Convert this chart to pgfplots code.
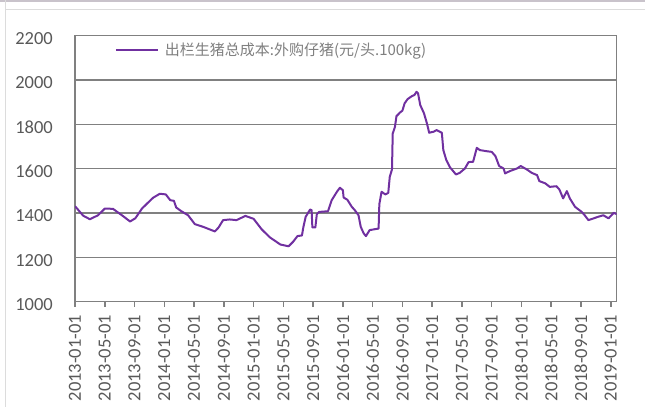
\documentclass[border=0pt]{standalone}
\usepackage{fontspec}
\setmainfont{Carlito}
\newfontfamily\cjk{Noto Sans CJK SC}
\usepackage{pgfplots}
\pgfplotsset{compat=1.18}
\definecolor{axisgray}{HTML}{808080}
\definecolor{labelgray}{HTML}{595959}
\definecolor{legendgray}{HTML}{7F7F7F}
\definecolor{hogpurple}{HTML}{7030A0}
\definecolor{framegray}{HTML}{DCDCDC}

\begin{document}
\begin{tikzpicture}[x=1pt,y=1pt]
\useasboundingbox (0,0) rectangle (645,407);
% outer frame of the screenshot
\fill[fill={rgb,255:red,201;green,195;blue,203}] (0,405) rectangle (645,407);
\draw[framegray, line width=1.2pt] (5.5,407) -- (5.5,0);
\draw[framegray, line width=1.2pt] (5.5,397.5) -- (645,397.5);
\begin{axis}[
  at={(75pt,105.3pt)}, anchor=south west,
  scale only axis, width=541.7pt, height=266pt,
  xmin=0, xmax=72.8, ymin=1000, ymax=2200,
  ytick={1000,1200,...,2200},
  xtick={0,4,...,72},
  xticklabels={2013-01-01,2013-05-01,2013-09-01,2014-01-01,2014-05-01,2014-09-01,
    2015-01-01,2015-05-01,2015-09-01,2016-01-01,2016-05-01,2016-09-01,
    2017-01-01,2017-05-01,2017-09-01,2018-01-01,2018-05-01,2018-09-01,2019-01-01},
  xtick pos=bottom, xtick align=outside,
  major tick length=5pt,
  xtick style={axisgray, line width=1.5pt},
  ytick style={draw=none},
  axis line style={axisgray, line width=1.5pt},
  ymajorgrids, grid style={axisgray, line width=1.5pt},
  tick label style={font=\fontsize{18.5}{20}\selectfont, text=labelgray},
  /pgf/number format/assume math mode=true,
  /pgf/number format/1000 sep={},
  xticklabel style={rotate=90, anchor=east, inner sep=0pt},
  xticklabel shift=8pt,
  yticklabel style={anchor=east, inner sep=0pt, yshift=-3pt},
  yticklabel shift=22pt,
  legend style={at={(axis description cs:0.0738,0.946)}, anchor=west,
    draw=none, fill=none, inner sep=0pt, outer sep=0pt,
    font=\cjk\fontsize{15}{17}\selectfont, text=legendgray,
    nodes={inner sep=0pt},
    /tikz/every odd column/.append style={column sep=6pt}},
  legend image code/.code={\draw[#1] (0pt,0pt) -- (42pt,0pt);},
]
\addplot[hogpurple, line width=2pt, line join=round] coordinates {
(0.0,1431) (1.1,1388) (2.0,1372) (3.1,1390) (4.0,1420) (5.1,1419)
(6.3,1390) (7.4,1362) (8.1,1376) (9.0,1420) (9.6,1440) (10.5,1469)
(11.4,1487) (12.2,1484) (12.8,1458) (13.3,1455) (13.6,1425) (14.3,1408)
(15.2,1390) (16.1,1350) (17.2,1338) (18.8,1317) (19.3,1335) (19.9,1368)
(20.8,1371) (21.7,1368) (22.9,1387) (24.0,1374) (25.1,1326) (26.2,1290)
(27.6,1258) (28.7,1250) (29.3,1270) (29.9,1296) (30.5,1299) (30.7,1338)
(31.0,1383) (31.6,1416) (31.8,1413) (31.9,1335) (32.3,1335) (32.5,1395)
(32.8,1405) (34.0,1408) (34.5,1458) (35.2,1496) (35.6,1514) (36.0,1503)
(36.1,1470) (36.6,1460) (37.2,1428) (37.6,1413) (38.1,1390) (38.4,1338)
(38.8,1308) (39.1,1296) (39.6,1323) (40.8,1330) (40.9,1440) (41.2,1496)
(41.7,1484) (42.1,1491) (42.3,1563) (42.6,1597) (42.7,1759) (43.0,1789)
(43.2,1837) (43.7,1854) (44.0,1862) (44.3,1895) (44.7,1914) (45.3,1928)
(45.6,1932) (45.9,1947) (46.1,1940) (46.4,1887) (46.9,1850) (47.3,1804)
(47.6,1762) (48.2,1767) (48.6,1774) (49.3,1762) (49.5,1684) (49.9,1639)
(50.4,1606) (51.2,1574) (51.7,1581) (52.4,1601) (52.9,1630) (53.5,1631)
(54.0,1694) (54.4,1684) (55.3,1679) (56.0,1676) (56.5,1657) (57.0,1612)
(57.6,1601) (57.8,1579) (58.5,1590) (59.4,1601) (59.9,1612) (60.7,1597)
(61.4,1581) (62.1,1571) (62.4,1544) (63.2,1534) (63.8,1518) (64.7,1521)
(65.1,1506) (65.6,1466) (66.1,1499) (66.5,1466) (67.2,1428) (68.1,1405)
(68.5,1390) (69.0,1368) (69.7,1376) (70.3,1383) (71.0,1390) (71.7,1376)
(72.4,1401) (72.8,1395)
};
\addlegendentry{出栏生猪总成本:外购仔猪(元/头.100kg)}
\end{axis}
\end{tikzpicture}
\end{document}
